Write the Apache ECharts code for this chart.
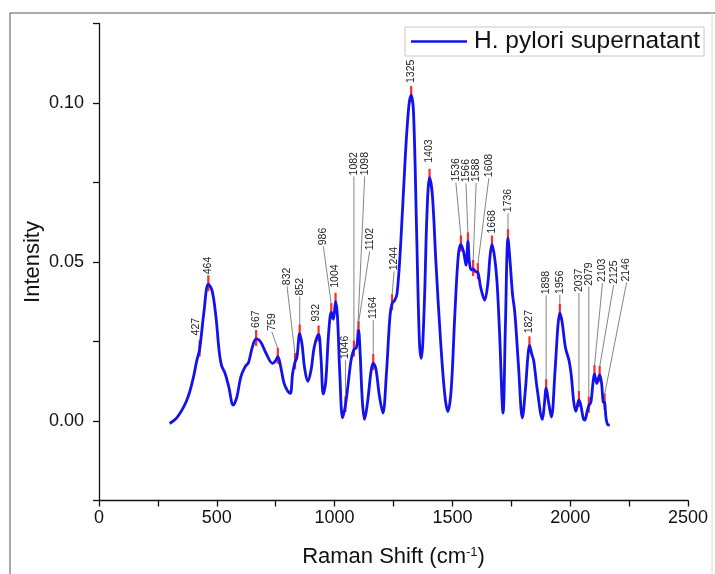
<!DOCTYPE html>
<html><head><meta charset="utf-8">
<script src="https://cdn.jsdelivr.net/npm/echarts@6/dist/echarts.min.js"></script>
<style>html,body{margin:0;padding:0;background:#fff}#c{width:715px;height:574px}</style>
</head><body><div id="c"></div>
<script>
const seriesName = 'H. pylori supernatant';
const shift = [300,330,360,380,400,415,427,445,464,480,496,510,520,535,550,570,585,602,620,635,650,667,685,709,737,750,759,770,785,800,812,822,832,840,852,862,872,886,900,914,932,942,952,962,975,986,995,1004,1012,1022,1034,1046,1058,1070,1082,1092,1098,1102,1108,1118,1127,1140,1155,1164,1175,1190,1205,1220,1235,1244,1254,1265,1280,1300,1315,1325,1335,1348,1360,1368,1380,1392,1403,1415,1430,1450,1468,1481,1495,1510,1525,1536,1548,1558,1566,1572,1580,1588,1598,1608,1620,1637,1650,1660,1668,1680,1690,1700,1715,1725,1736,1745,1755,1765,1780,1797,1810,1820,1827,1837,1845,1860,1882,1890,1898,1908,1920,1935,1948,1956,1966,1980,1995,2005,2015,2024,2037,2045,2055,2062,2072,2079,2088,2096,2103,2113,2125,2133,2140,2146,2152,2160,2168];
const intensity = [-0.0008,0.001,0.0045,0.008,0.0135,0.019,0.0225,0.034,0.043,0.041,0.033,0.022,0.0175,0.015,0.011,0.005,0.0075,0.0139,0.017,0.0185,0.023,0.0258,0.025,0.0213,0.0181,0.019,0.0202,0.0175,0.012,0.0095,0.0087,0.015,0.0185,0.02,0.0275,0.024,0.017,0.0125,0.016,0.0234,0.0272,0.02,0.0085,0.012,0.028,0.0342,0.032,0.0375,0.033,0.015,0.001,0.005,0.012,0.0192,0.0225,0.023,0.026,0.0285,0.022,0.006,0.0005,0.006,0.0158,0.0182,0.0165,0.008,0.0025,0.015,0.033,0.037,0.0378,0.04,0.055,0.083,0.099,0.1025,0.097,0.06,0.025,0.0197,0.035,0.065,0.0765,0.071,0.05,0.025,0.008,0.003,0.01,0.033,0.052,0.0555,0.053,0.049,0.0565,0.05,0.0475,0.0478,0.047,0.0468,0.042,0.038,0.043,0.052,0.0555,0.051,0.043,0.028,0.0025,0.03,0.0575,0.05,0.04,0.034,0.018,0.001,0.01,0.02,0.0238,0.021,0.019,0.01,0.0005,0.005,0.0103,0.006,0.0012,0.015,0.03,0.034,0.031,0.023,0.019,0.014,0.006,0.003,0.0066,0.005,0.001,0.0003,0.003,0.0048,0.006,0.0115,0.0148,0.0118,0.0145,0.012,0.006,0.0058,0.001,-0.0012,-0.0013];
const peaks = [427,464,667,759,832,852,932,986,1004,1046,1082,1098,1102,1164,1244,1325,1403,1536,1566,1588,1608,1668,1736,1827,1898,1956,2037,2079,2103,2125,2146];
const xTickLabels = [0,500,1000,1500,2000,2500];
const yTickLabels = [0.00,0.05,0.10];

// layout: label offsets (px) from marker top
const labelOffsets = [[-3,-5],[0,-1],[0,-2],[-6,-17],[-8,-68],[0,-29],[-2,-4],[-8,-58],[0,-5],[0,-37],[0,-165],[7,-154],[11,-71],[0,-35],[2,-24],[0,-3],[0,-6],[-5,-54],[-2,-50],[3,-78],[11,-86],[0,-2],[0,-17],[0,-3],[0,-85],[0,-10],[0,-99],[0,-111],[8,-83],[14,-82],[22,-112]];

const lineData = shift.map((s,i)=>[s,intensity[i]]);
const peakData = peaks.map(p=>[p,intensity[shift.indexOf(p)]]);
const FONT = '"Liberation Sans", Arial, sans-serif';

const chart = echarts.init(document.getElementById('c'), null, {renderer:'canvas'});
chart.setOption({
  animation:false,
  backgroundColor:'#fff',
  graphic:[
    {type:'line', shape:{x1:10,y1:13,x2:715,y2:13}, style:{stroke:'#555',lineWidth:1}},
    {type:'line', shape:{x1:10,y1:13,x2:10,y2:574}, style:{stroke:'#555',lineWidth:1}},
    {type:'line', shape:{x1:712,y1:13,x2:712,y2:574}, style:{stroke:'#ddd',lineWidth:1}}
  ],
  grid:{left:99,right:27,top:23.5,bottom:73.5,containLabel:false},
  legend:{
    data:[seriesName], left:405, top:27, padding:[2,4,2,6],
    icon:'rect', itemWidth:56, itemHeight:2.5, itemGap:0,
    borderColor:'#c8c8c8', borderWidth:1, backgroundColor:'#fff',
    textStyle:{fontFamily:FONT,fontSize:24.5,color:'#111',padding:[0,0,0,2]}
  },
  xAxis:{
    type:'value', min:0, max:2500, interval:250,
    axisLine:{onZero:false,lineStyle:{color:'#111',width:1.3}},
    axisTick:{length:6,lineStyle:{color:'#111',width:1.3}},
    splitLine:{show:false},
    axisLabel:{fontFamily:FONT,fontSize:18,color:'#111',margin:9,
      formatter:v=>xTickLabels.includes(v)?String(v):''},
    name:'{a|Raman Shift (cm}{s|-1}{a|)}', nameLocation:'middle', nameGap:45,
    nameTextStyle:{rich:{a:{fontFamily:FONT,fontSize:22,color:'#111'},s:{fontFamily:FONT,fontSize:13,color:'#111',verticalAlign:'top',padding:[0,0,10,0]}}}
  },
  yAxis:{
    type:'value', min:-0.025, max:0.125, interval:0.025,
    axisLine:{onZero:false,lineStyle:{color:'#111',width:1.3}},
    axisTick:{length:6,lineStyle:{color:'#111',width:1.3}},
    splitLine:{show:false},
    axisLabel:{fontFamily:FONT,fontSize:18,color:'#111',margin:15,
      formatter:v=>{const m=yTickLabels.find(t=>Math.abs(t-v)<1e-9);return m===undefined?'':m.toFixed(2);}},
    name:'Intensity', nameLocation:'middle', nameGap:55, nameMoveOverlap:false,
    nameTextStyle:{fontFamily:FONT,fontSize:22,color:'#111'}
  },
  series:[
    {type:'custom', name:'markers', z:1, data:peakData, silent:true,
      renderItem:(params,api)=>{
        const p=api.coord([api.value(0),api.value(1)]);
        return {type:'line',shape:{x1:p[0],y1:p[1]-9,x2:p[0],y2:p[1]+7},style:{stroke:'#ff2a2a',lineWidth:2.2}};
      }},
    {type:'line', name:seriesName, z:2, data:lineData, showSymbol:false, smooth:0.35,
      lineStyle:{color:'#1212ee',width:2.8}, itemStyle:{color:'#1212ee'}},
    {type:'custom', name:'labels', z:3, data:peakData, silent:true,
      renderItem:(params,api)=>{
        const p=api.coord([api.value(0),api.value(1)]);
        const off=labelOffsets[params.dataIndex];
        const x0=p[0], y0=p[1]-8;
        const tx=x0+off[0], ty=y0+off[1];
        const children=[];
        if(Math.abs(off[1])>8){
          children.push({type:'line',shape:{x1:x0,y1:y0,x2:tx,y2:ty},style:{stroke:'#666',lineWidth:0.8}});
        }
        children.push({type:'text',x:tx,y:ty-1,rotation:Math.PI/2,
          style:{text:String(peaks[params.dataIndex]),x:0,y:0,align:'left',verticalAlign:'middle',
            fill:'#222',font:'10.5px '+FONT}});
        return {type:'group',children};
      }}
  ]
});
</script></body></html>
